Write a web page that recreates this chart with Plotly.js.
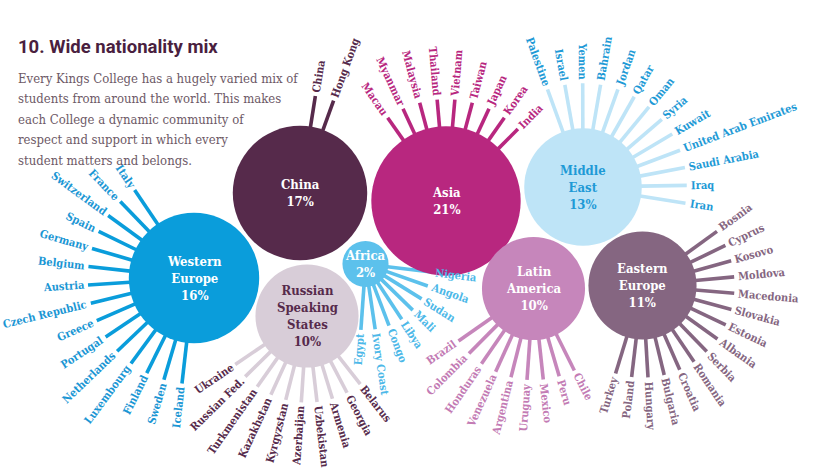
<!DOCTYPE html>
<html><head><meta charset="utf-8">
<script src="https://cdn.plot.ly/plotly-3.0.1.min.js"></script>
<style>html,body{margin:0;padding:0;background:#fff;}#chart{width:818px;height:474px;}</style>
</head><body><div id="chart"></div>
<script>
// ---------- DATA ----------
const regions = ['China','Asia','Middle East','Western Europe','Russian Speaking States','Africa','Latin America','Eastern Europe'];
const shares = [17,21,13,16,10,2,10,11];
const chinaCountries = ['China','Hong Kong'];
const asiaCountries = ['Macau','Myanmar','Malaysia','Thailand','Vietnam','Taiwan','Japan','Korea','India'];
const middleEastCountries = ['Palestine','Israel','Yemen','Bahrain','Jordan','Qatar','Oman','Syria','Kuwait','United Arab Emirates','Saudi Arabia','Iraq','Iran'];
const westernEuropeCountries = ['Italy','France','Switzerland','Spain','Germany','Belgium','Austria','Czech Republic','Greece','Portugal','Netherlands','Luxembourg','Finland','Sweden','Iceland'];
const russianCountries = ['Ukraine','Russian Fed.','Turkmenistan','Kazakhstan','Kyrgyzstan','Azerbaijan','Uzbekistan','Armenia','Georgia','Belarus'];
const africaCountries = ['Nigeria','Angola','Sudan','Mali','Libya','Congo','Ivory Coast','Egypt'];
const latinAmericaCountries = ['Brazil','Colombia','Honduras','Venezuela','Argentina','Uruguay','Mexico','Peru','Chile'];
const easternEuropeCountries = ['Turkey','Poland','Hungary','Bulgaria','Croatia','Romania','Serbia','Albania','Estonia','Slovakia','Macedonia','Moldova','Kosovo','Cyprus','Bosnia'];
const titleText = '10. Wide nationality mix';
const introLines = [
  'Every Kings College has a hugely varied mix of',
  'students from around the world. This makes',
  'each College a dynamic community of',
  'respect and support in which every',
  'student matters and belongs.'
];
const countryLists = [chinaCountries, asiaCountries, middleEastCountries, westernEuropeCountries,
  russianCountries, africaCountries, latinAmericaCountries, easternEuropeCountries];

// ---------- LAYOUT / STYLE ----------
const K = 16.3; // px radius per sqrt(percent)
const style = [
  {cx:300, cy:193, a0:81,  a1:70,  ray:31, fill:'#562a4b', txt:'#ffffff', rayC:'#562a4b', lab:'#562a4b'},
  {cx:446, cy:201, a0:125, a1:45,  ray:27, fill:'#b8277f', txt:'#ffffff', rayC:'#b8277f', lab:'#b8277f'},
  {cx:583, cy:187, a0:110, a1:-9,  ray:45, fill:'#bee4f7', txt:'#1e9ad6', rayC:'#bee4f7', lab:'#1e9ad6'},
  {cx:194, cy:278, a0:124, a1:263.5, ray:41, fill:'#0a9ddb', txt:'#ffffff', rayC:'#0a9ddb', lab:'#1a96d4'},
  {cx:307, cy:316, a0:214, a1:308, ray:35, fill:'#d8cdd8', txt:'#562a4b', rayC:'#d8cdd8', lab:'#562a4b'},
  {cx:365.5, cy:264, a0:353, a1:266, ray:43, fill:'#5cc1ec', txt:'#ffffff', rayC:'#5cc1ec', lab:'#4cb8e8'},
  {cx:533.5, cy:288.5, a0:215, a1:296.5, ray:40, fill:'#c686bb', txt:'#ffffff', rayC:'#c686bb', lab:'#c37bb4'},
  {cx:642.5, cy:285.5, a0:253, a1:396, ray:38, fill:'#856681', txt:'#ffffff', rayC:'#856681', lab:'#856681'}
];
const labelFamily = '"DejaVu Serif Condensed", "DejaVu Serif", serif';
const labelSize = 11;
const bubbleSize = 13;

const cv = document.createElement('canvas').getContext('2d');
cv.font = 'bold ' + labelSize + 'px ' + labelFamily;

const traces = [];
const annotations = [];
const rad = d => d * Math.PI / 180;

regions.forEach((reg, i) => {
  const s = style[i];
  const r = K * Math.sqrt(shares[i]);
  const list = countryLists[i];
  const n = list.length;
  const xs = [], ys = [];
  list.forEach((c, j) => {
    const a = n > 1 ? s.a0 + (s.a1 - s.a0) * j / (n - 1) : s.a0;
    const dx = Math.cos(rad(a)), dy = -Math.sin(rad(a));
    xs.push(s.cx + dx * (r - 1), s.cx + dx * (r + s.ray), null);
    ys.push(s.cy + dy * (r - 1), s.cy + dy * (r + s.ray), null);
    const w = cv.measureText(c).width;
    const d = r + s.ray + 4 + w / 2;
    let t = dx >= -1e-6 ? -a : 180 - a;
    while (t > 180) t -= 360;
    while (t < -180) t += 360;
    annotations.push({x: s.cx + dx * d, y: s.cy + dy * d, xref:'x', yref:'y', text:'<b>' + c + '</b>', showarrow:false,
      textangle:t, xanchor:'center', yanchor:'middle', borderpad:0,
      font:{family:labelFamily, size:labelSize, color:s.lab}});
  });
  traces.push({type:'scatter', mode:'lines', x:xs, y:ys, hoverinfo:'skip', showlegend:false,
    line:{color:s.rayC, width:3.6}});
});

traces.push({type:'scatter', mode:'markers', x:style.map(s=>s.cx), y:style.map(s=>s.cy),
  hoverinfo:'skip', showlegend:false,
  marker:{size:shares.map(v => 2 * K * Math.sqrt(v)), sizemode:'diameter', color:style.map(s=>s.fill), opacity:1, line:{width:0}}});

regions.forEach((reg, i) => {
  const s = style[i];
  annotations.push({x:s.cx, y:s.cy, xref:'x', yref:'y', showarrow:false, xanchor:'center', yanchor:'middle',
    text:'<b>' + reg.split(' ').join('<br>') + '<br>' + shares[i] + '%</b>',
    font:{family:labelFamily, size:bubbleSize, color:s.txt}});
});

annotations.push({x:16, y:47, xref:'x', yref:'y', xanchor:'left', yanchor:'middle', showarrow:false,
  text:'<b>' + titleText + '</b>', font:{family:'Roboto, "Open Sans", sans-serif', size:18.5, color:'#4a1f40'}});
introLines.forEach((l, k) => {
  annotations.push({x:16, y:78 + k * 20.5, xref:'x', yref:'y', xanchor:'left', yanchor:'middle', showarrow:false,
    text:l, font:{family:labelFamily, size:13, color:'#6d5966'}});
});

const layout = {
  width:818, height:474, margin:{l:0, r:0, t:0, b:0},
  paper_bgcolor:'#ffffff', plot_bgcolor:'#ffffff',
  xaxis:{range:[0,818], visible:false, fixedrange:true},
  yaxis:{range:[474,0], visible:false, fixedrange:true},
  annotations:annotations, showlegend:false
};
Plotly.newPlot('chart', traces, layout, {staticPlot:true, displayModeBar:false});
</script>
</body></html>
